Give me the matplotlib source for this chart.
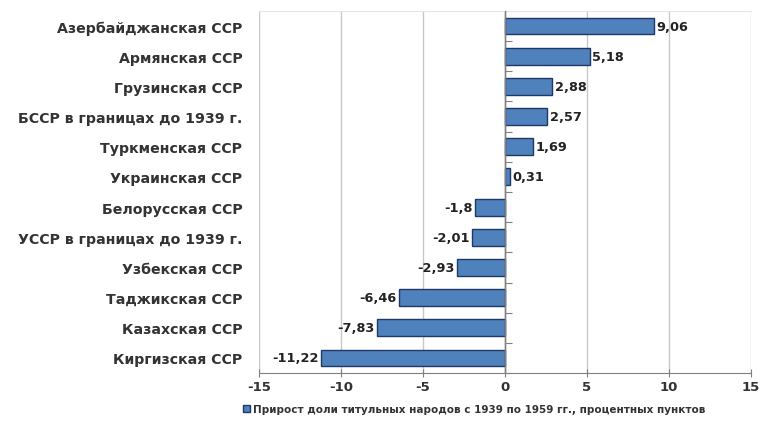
"""
Прирост доли титульных народов в союзных республиках, 1939-1959.
"""

import matplotlib
matplotlib.use("Agg")
import matplotlib.pyplot as plt
import numpy as np


republics = ["Азербайджанская ССР",
             "Армянская ССР",
             "Грузинская ССР",
             "БССР в границах до 1939 г.",
             "Туркменская ССР",
             "Украинская ССР",
             "Белорусская ССР",
             "УССР в границах до 1939 г.",
             "Узбекская ССР",
             "Таджикская ССР",
             "Казахская ССР",
             "Киргизская ССР"]

growth = [9.06, 5.18, 2.88, 2.57, 1.69, 0.31,
          -1.8, -2.01, -2.93, -6.46, -7.83, -11.22]

value_labels = ["9,06", "5,18", "2,88", "2,57", "1,69", "0,31",
                "-1,8", "-2,01", "-2,93", "-6,46", "-7,83", "-11,22"]

x_ticks = [-15, -10, -5, 0, 5, 10, 15]

legend_text = "Прирост доли титульных народов с 1939 по 1959 гг., процентных пунктов"


def main():
    """Draws the chart and saves it"""

    plt.rcParams['font.family'] = ['DejaVu Sans']

    fig = plt.figure(figsize=(7.65, 4.27), dpi=100)
    ax = fig.add_axes([0.3386, 0.124, 0.6431, 0.848])

    y = np.arange(len(republics))
    bars = ax.barh(y, growth, height=0.56, color='#4F81BD',
                   edgecolor='#1F3864', linewidth=1.0, zorder=3,
                   label=legend_text)

    # value labels just outside the bar ends
    for yy, val, lab in zip(y, growth, value_labels):
        if val >= 0:
            ax.text(val + 0.15, yy, lab, ha='left', va='center',
                    fontsize=9.3, fontweight='bold', color='#222222')
        else:
            ax.text(val - 0.15, yy, lab, ha='right', va='center',
                    fontsize=9.3, fontweight='bold', color='#222222')

    ax.set_xlim(-15, 15)
    ax.set_ylim(len(republics) - 0.5, -0.5)
    ax.set_xticks(x_ticks)
    ax.set_xticklabels([str(t) for t in x_ticks])
    ax.tick_params(axis='x', direction='inout', length=6, color='#808080',
                   labelsize=9.5, pad=2, labelcolor='#333333')
    for lab in ax.get_xticklabels():
        lab.set_fontweight('bold')

    ax.set_yticks(y)
    ax.set_yticklabels(republics, fontsize=10.2, fontweight='bold',
                       color='#333333')
    ax.tick_params(axis='y', length=0, pad=12)

    ax.grid(axis='x', color='#C8C8C8', linewidth=1.0, zorder=0)
    for side in ['left', 'right']:
        ax.spines[side].set_visible(False)
    ax.spines['bottom'].set_color('#808080')
    ax.spines['top'].set_color('#E6E6E6')

    # axis line at zero with ticks between categories
    ax.axvline(0, color='#808080', linewidth=1.0, zorder=4)
    sec = ax.secondary_yaxis(0.5)
    sec.set_yticks(np.arange(len(republics) + 1) - 0.5)
    sec.set_yticklabels([])
    sec.tick_params(direction='out', length=5, color='#808080')
    sec.spines['left'].set_visible(False)

    leg = fig.legend(handles=[bars], labels=[legend_text],
                     loc='center', bbox_to_anchor=(0.62, 0.04),
                     frameon=False, fontsize=7.5, handlelength=0.7,
                     handleheight=0.7, handletextpad=0.3)
    for t in leg.get_texts():
        t.set_fontweight('bold')
        t.set_color('#333333')

    fig.savefig("out.png", dpi=100)


if __name__ == "__main__":
    main()
